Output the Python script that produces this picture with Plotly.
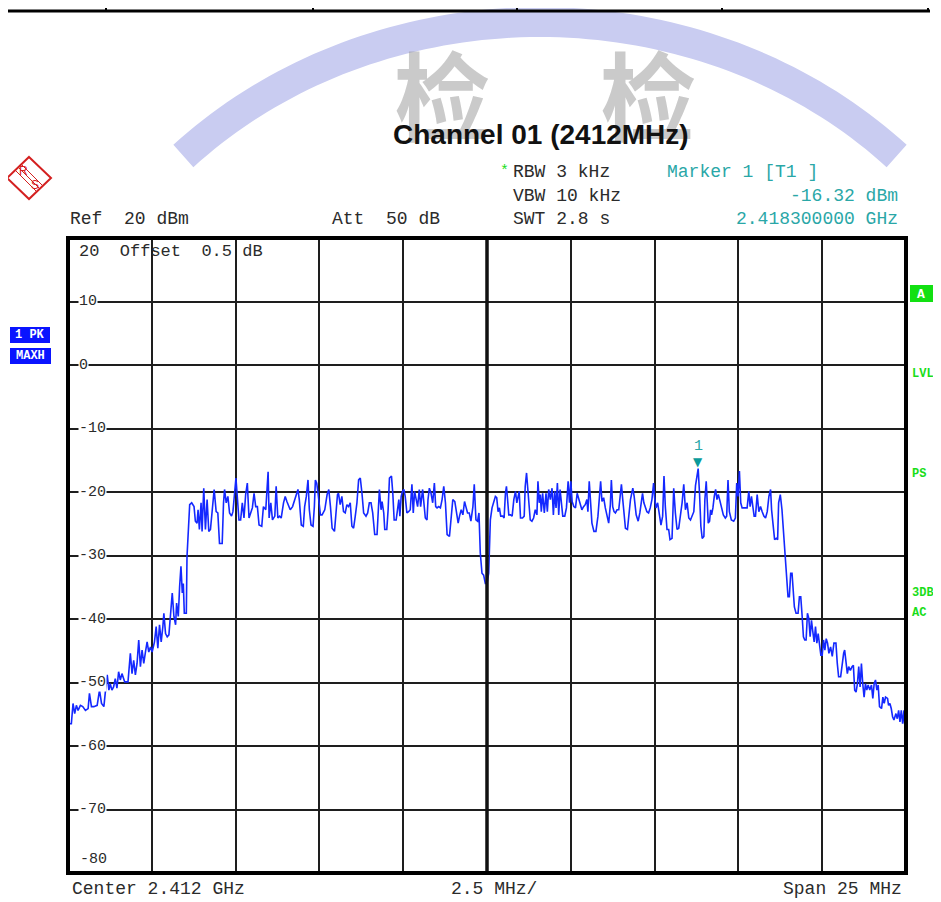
import math
import plotly.graph_objects as go

# ---------------- data (offset from 2.412 GHz centre, MHz ; level dBm) ----------------
lower_skirt = [
    (-12.50, -52.8), (-12.46, -56.5), (-12.40, -56.5), (-12.35, -53.3), (-12.30, -54.9), (-12.25, -53.6),
    (-12.20, -54.4), (-12.13, -53.6), (-12.06, -53.8), (-11.98, -54.4), (-11.90, -54.1), (-11.86, -51.7),
    (-11.80, -53.8), (-11.73, -53.8), (-11.63, -53.6), (-11.56, -51.2), (-11.50, -53.3), (-11.43, -53.8),
    (-11.38, -51.2), (-11.33, -48.8), (-11.28, -51.2), (-11.24, -50.2), (-11.19, -51.2), (-11.14, -50.7),
    (-11.09, -49.4), (-11.04, -50.9), (-10.99, -48.3), (-10.94, -49.6), (-10.89, -48.6), (-10.81, -49.9),
    (-10.71, -49.9), (-10.64, -45.4), (-10.59, -48.6), (-10.54, -46.5), (-10.49, -48.8), (-10.44, -47.0),
    (-10.39, -43.3), (-10.34, -47.5), (-10.29, -44.9), (-10.24, -47.0), (-10.19, -45.2), (-10.14, -43.6),
    (-10.09, -45.2), (-10.04, -44.4), (-9.99, -45.2), (-9.92, -43.6), (-9.87, -41.2), (-9.82, -44.6),
    (-9.77, -40.9), (-9.72, -43.6), (-9.67, -41.2), (-9.64, -39.1), (-9.59, -42.3), (-9.54, -42.8),
    (-9.49, -42.5), (-9.44, -39.1), (-9.39, -35.9), (-9.34, -39.6), (-9.29, -40.9), (-9.26, -37.5),
    (-9.21, -39.6), (-9.17, -34.9), (-9.13, -31.7), (-9.09, -35.9), (-9.06, -34.4), (-9.03, -39.1),
    (-8.97, -39.1), (-8.95, -30.2), (-8.91, -25.4),
]
band_left = [
    (-8.87, -22.0), (-8.81, -21.7), (-8.74, -22.3), (-8.70, -24.6), (-8.65, -24.9), (-8.62, -22.8),
    (-8.58, -25.9), (-8.53, -21.7), (-8.50, -26.2), (-8.45, -19.4), (-8.40, -25.9), (-8.35, -21.2),
    (-8.30, -26.2), (-8.25, -25.9), (-8.20, -22.8), (-8.14, -19.6), (-8.08, -23.1), (-8.03, -23.3),
    (-7.98, -28.1), (-7.90, -28.1), (-7.86, -21.7), (-7.83, -19.6), (-7.78, -21.7), (-7.73, -20.7),
    (-7.68, -23.3), (-7.62, -23.8), (-7.58, -23.1), (-7.53, -19.9), (-7.49, -17.8), (-7.45, -20.7),
    (-7.40, -24.4), (-7.35, -24.4), (-7.30, -21.7), (-7.25, -24.1), (-7.20, -20.4), (-7.15, -18.6),
    (-7.10, -24.1), (-7.05, -23.3), (-7.00, -22.5), (-6.95, -20.2), (-6.90, -22.3), (-6.85, -22.3),
    (-6.80, -25.2), (-6.72, -25.4), (-6.67, -22.3), (-6.60, -22.8), (-6.56, -19.1), (-6.53, -16.8),
    (-6.50, -24.1), (-6.45, -21.7), (-6.40, -24.4), (-6.33, -23.8), (-6.29, -19.1), (-6.24, -24.1),
    (-6.19, -23.8), (-6.14, -24.1), (-6.07, -21.7), (-6.02, -20.7), (-5.97, -21.5), (-5.92, -22.3),
    (-5.87, -22.8), (-5.80, -22.3), (-5.75, -21.5), (-5.70, -20.4), (-5.64, -19.6), (-5.60, -21.2),
    (-5.54, -25.2), (-5.48, -25.4), (-5.44, -22.3), (-5.39, -20.7), (-5.34, -18.1), (-5.30, -22.8),
    (-5.25, -25.2), (-5.19, -25.4), (-5.15, -22.3), (-5.12, -18.1), (-5.08, -18.6), (-5.04, -20.2),
    (-4.97, -23.6), (-4.92, -23.6), (-4.84, -22.8), (-4.77, -20.4), (-4.72, -19.6), (-4.67, -22.3),
    (-4.62, -25.7), (-4.55, -26.2), (-4.50, -22.8), (-4.46, -20.4), (-4.43, -20.2), (-4.38, -22.0),
    (-4.33, -20.7), (-4.28, -23.1), (-4.23, -23.3), (-4.18, -22.0), (-4.13, -22.3), (-4.08, -21.7),
    (-4.03, -25.4), (-3.98, -25.7), (-3.93, -23.8), (-3.88, -21.7), (-3.83, -18.1), (-3.78, -17.8),
    (-3.73, -20.2), (-3.68, -23.3), (-3.61, -23.8), (-3.56, -23.3), (-3.51, -21.7), (-3.46, -21.7),
    (-3.41, -23.3), (-3.35, -26.7), (-3.28, -26.7), (-3.25, -23.3), (-3.21, -19.6), (-3.16, -22.8),
    (-3.13, -21.5), (-3.08, -23.3), (-3.05, -25.9), (-2.99, -25.9), (-2.95, -22.8), (-2.91, -17.8),
    (-2.85, -17.5), (-2.81, -20.2), (-2.77, -24.4), (-2.71, -24.4), (-2.67, -22.3), (-2.63, -21.2),
    (-2.60, -23.8), (-2.56, -20.7), (-2.52, -19.9), (-2.48, -19.6), (-2.44, -20.7), (-2.39, -23.3),
    (-2.34, -23.1), (-2.29, -22.8), (-2.24, -18.8), (-2.20, -23.3), (-2.16, -19.9), (-2.12, -21.2),
    (-2.07, -22.3), (-2.02, -19.6), (-1.98, -22.3), (-1.92, -19.6), (-1.89, -21.2), (-1.84, -24.1),
    (-1.79, -24.4), (-1.76, -21.2), (-1.72, -19.4), (-1.67, -20.2), (-1.62, -21.7), (-1.57, -18.6),
    (-1.53, -22.3), (-1.49, -22.5), (-1.44, -22.3), (-1.39, -22.5), (-1.34, -21.2), (-1.29, -19.1),
    (-1.24, -21.7), (-1.19, -26.7), (-1.12, -27.0), (-1.07, -24.1), (-1.02, -21.2), (-0.96, -21.5),
    (-0.91, -23.1), (-0.86, -24.9), (-0.82, -23.8), (-0.77, -22.8), (-0.72, -23.6), (-0.67, -21.5),
    (-0.63, -22.3), (-0.58, -23.3), (-0.53, -23.3), (-0.48, -24.6), (-0.42, -22.3), (-0.38, -18.8),
    (-0.33, -24.4), (-0.28, -24.6), (-0.24, -23.3),
]
centre_notch = [
    (-0.20, -29.6), (-0.15, -32.8), (-0.10, -33.1), (-0.05, -34.4), (0.00, -34.4), (0.05, -32.8),
    (0.07, -28.6),
]
band_right = [
    (0.10, -24.4), (0.15, -22.5), (0.20, -21.7), (0.25, -20.7), (0.29, -20.9), (0.33, -23.1),
    (0.37, -22.5), (0.41, -23.8), (0.47, -23.8), (0.51, -24.1), (0.55, -20.2), (0.58, -19.1),
    (0.61, -20.9), (0.65, -23.6), (0.70, -23.6), (0.75, -23.8), (0.80, -21.2), (0.85, -19.9),
    (0.89, -21.7), (0.93, -20.7), (0.96, -19.9), (1.00, -24.1), (1.06, -24.1), (1.11, -23.8),
    (1.14, -19.1), (1.18, -17.0), (1.24, -21.2), (1.29, -24.4), (1.34, -24.6), (1.39, -24.1),
    (1.44, -22.8), (1.49, -23.6), (1.52, -18.3), (1.56, -21.7), (1.59, -20.4), (1.62, -23.1),
    (1.66, -20.2), (1.71, -23.3), (1.76, -20.2), (1.80, -23.1), (1.84, -19.6), (1.89, -21.2),
    (1.94, -19.4), (1.98, -23.6), (2.02, -19.9), (2.06, -22.5), (2.10, -18.6), (2.14, -23.6),
    (2.18, -19.6), (2.22, -22.3), (2.26, -23.8), (2.32, -23.8), (2.37, -22.5), (2.42, -18.3),
    (2.46, -21.7), (2.50, -18.3), (2.54, -21.5), (2.59, -22.3), (2.64, -22.5), (2.69, -20.2),
    (2.74, -21.2), (2.77, -22.0), (2.83, -22.8), (2.88, -22.3), (2.93, -22.0), (2.98, -21.2),
    (3.01, -23.1), (3.05, -18.3), (3.08, -21.2), (3.13, -24.9), (3.19, -26.2), (3.25, -26.2),
    (3.31, -23.8), (3.35, -20.2), (3.39, -18.3), (3.43, -21.5), (3.48, -20.9), (3.53, -22.5),
    (3.58, -23.8), (3.63, -24.9), (3.68, -22.0), (3.71, -18.1), (3.75, -22.3), (3.79, -23.1),
    (3.83, -23.3), (3.88, -22.8), (3.93, -22.8), (3.97, -20.2), (4.01, -18.8), (4.05, -21.2),
    (4.09, -23.1), (4.13, -25.7), (4.19, -25.9), (4.23, -23.6), (4.28, -21.2), (4.35, -19.4),
    (4.39, -20.7), (4.45, -23.6), (4.51, -24.6), (4.56, -23.3), (4.61, -21.2), (4.64, -20.2),
    (4.68, -21.7), (4.72, -22.3), (4.77, -23.1), (4.82, -23.3), (4.87, -22.5), (4.92, -21.2),
    (4.97, -18.6), (5.00, -20.9), (5.04, -22.5), (5.09, -21.7), (5.14, -23.8), (5.19, -25.2),
    (5.24, -23.8), (5.28, -17.5), (5.32, -22.3), (5.37, -25.9), (5.42, -25.9), (5.46, -27.5),
    (5.52, -27.3), (5.57, -19.4), (5.62, -23.3), (5.67, -25.9), (5.72, -25.7), (5.77, -23.8),
    (5.82, -21.7), (5.87, -18.8), (5.92, -22.8), (5.97, -21.7), (6.02, -24.1), (6.07, -24.4),
    (6.12, -23.6), (6.17, -23.1), (6.22, -19.0), (6.30, -16.32), (6.34, -20.2), (6.38, -25.4),
    (6.42, -27.3), (6.47, -27.0), (6.50, -21.2), (6.54, -18.3), (6.57, -21.5), (6.60, -24.9),
    (6.64, -24.6), (6.67, -22.8), (6.70, -23.6), (6.74, -22.5), (6.78, -20.7), (6.82, -19.6),
    (6.86, -21.2), (6.90, -20.4), (6.94, -21.2), (6.99, -22.5), (7.05, -23.6), (7.11, -24.1),
    (7.15, -23.8), (7.19, -18.1), (7.23, -23.1), (7.29, -24.4), (7.36, -24.6), (7.41, -24.1),
    (7.45, -18.6), (7.49, -20.7), (7.53, -16.7), (7.57, -21.7), (7.61, -22.5), (7.69, -22.5),
    (7.76, -22.5), (7.81, -19.9), (7.85, -22.3), (7.89, -20.7), (7.93, -22.5), (7.97, -23.8),
    (8.01, -23.8), (8.06, -20.4), (8.11, -23.1), (8.16, -22.3), (8.21, -23.1), (8.26, -23.8),
    (8.31, -24.1), (8.36, -23.1), (8.41, -20.7), (8.46, -19.6), (8.49, -22.8), (8.54, -25.2),
    (8.58, -27.5), (8.63, -27.3), (8.67, -27.5), (8.70, -21.7), (8.75, -20.4), (8.80, -22.8),
]
upper_skirt = [
    (8.85, -26.5), (8.90, -30.7), (8.95, -33.3), (8.98, -36.5), (9.02, -36.5), (9.06, -32.8),
    (9.10, -32.8), (9.13, -35.9), (9.17, -38.1), (9.22, -39.1), (9.28, -39.1), (9.32, -36.5),
    (9.36, -36.5), (9.40, -39.4), (9.44, -42.8), (9.48, -43.3), (9.52, -43.3), (9.56, -39.1),
    (9.60, -39.9), (9.64, -42.8), (9.68, -40.2), (9.72, -42.0), (9.76, -43.6), (9.80, -41.2),
    (9.84, -43.8), (9.88, -42.3), (9.92, -44.4), (9.96, -45.7), (10.00, -45.7), (10.04, -43.3),
    (10.08, -44.9), (10.12, -43.1), (10.16, -43.8), (10.20, -45.4), (10.25, -44.4), (10.30, -45.9),
    (10.35, -43.8), (10.41, -43.8), (10.45, -47.0), (10.49, -49.1), (10.55, -49.1), (10.59, -47.0),
    (10.64, -45.4), (10.67, -44.9), (10.71, -46.5), (10.75, -48.6), (10.79, -47.5), (10.84, -48.1),
    (10.89, -47.5), (10.93, -47.3), (10.97, -51.2), (11.01, -51.5), (11.05, -50.2), (11.09, -47.5),
    (11.13, -50.7), (11.17, -47.0), (11.21, -50.2), (11.25, -52.3), (11.29, -50.2), (11.33, -51.2),
    (11.37, -50.4), (11.42, -51.2), (11.47, -50.4), (11.51, -52.5), (11.55, -50.2), (11.59, -49.6),
    (11.63, -51.2), (11.67, -50.4), (11.71, -53.8), (11.77, -54.1), (11.81, -52.3), (11.85, -53.3),
    (11.89, -52.3), (11.95, -52.5), (11.98, -53.6), (12.02, -53.3), (12.06, -54.1), (12.10, -55.4),
    (12.14, -55.9), (12.20, -54.9), (12.24, -55.7), (12.28, -54.4), (12.32, -56.2), (12.36, -54.4),
    (12.40, -56.5), (12.44, -54.4), (12.48, -58.3), (12.50, -58.4),
]

y_tick_values = [10, 0, -10, -20, -30, -40, -50, -60, -70]
y_top_label = "20"
y_bottom_label = "-80"
marker_offset_mhz = 6.30
marker_level = -16.32

points = lower_skirt + band_left + centre_notch + band_right + upper_skirt
freq = [p[0] for p in points]
level = [p[1] for p in points]

# ---------------- geometry (page has an 8 px body margin) ----------------
PAGE_OFF = 8
W, H = 941 - PAGE_OFF, 902 - PAGE_OFF
FX0, FX1, FY0, FY1 = 68, 906, 238, 873          # frame position in the screenshot
L, T = FX0 - PAGE_OFF, FY0 - PAGE_OFF
R, B = W - (FX1 - PAGE_OFF), H - (FY1 - PAGE_OFF)
PW, PH = FX1 - FX0, FY1 - FY0


def px(x):
    return (x - FX0) / PW


def py(y):
    return (FY1 - y) / PH


MONO = "Liberation Mono, Courier New, monospace"
DARK = "#2b2b2b"
TEAL = "#2aa7a7"
GREEN = "#19dd19"
HS = 18  # header font size

fig = go.Figure()
fig.add_trace(go.Scatter(x=freq, y=level, mode="lines",
                         line=dict(color="#1428ff", width=1.6), hoverinfo="skip"))

fig.update_layout(
    width=W, height=H, margin=dict(l=L, r=R, t=T, b=B),
    paper_bgcolor="white", plot_bgcolor="white", showlegend=False,
)
fig.update_xaxes(range=[-12.5, 12.5], tick0=-12.5, dtick=2.5, showgrid=True,
                 gridcolor="#1e1e1e", gridwidth=2, showticklabels=False,
                 zeroline=False, showline=False, ticks="", fixedrange=True)
fig.update_yaxes(range=[-80, 20], tick0=0, dtick=10, showgrid=True,
                 gridcolor="#1e1e1e", gridwidth=2, showticklabels=False,
                 zeroline=False, showline=False, ticks="", fixedrange=True)

shapes = []
# watermark arc (lavender)
cx, cy, rx, ry = 540, 470, 500, 448
t0 = math.asin((cy - 156) / ry)
n = 80
pts = []
for i in range(n + 1):
    t = t0 + (math.pi - 2 * t0) * i / n
    x = cx + rx * math.cos(t)
    y = cy - ry * math.sin(t)
    pts.append(f"{px(x):.5f},{py(y):.5f}")
shapes.append(dict(type="path", xref="paper", yref="paper", layer="below",
                   path="M " + " L ".join(pts),
                   line=dict(color="#c9ccf1", width=30)))
# table line at very top
shapes.append(dict(type="line", xref="paper", yref="paper", x0=px(0), x1=px(930),
                   y0=py(11), y1=py(11), line=dict(color="black", width=3)))
for vx in [106, 313, 517, 722, 928]:
    shapes.append(dict(type="line", xref="paper", yref="paper", x0=px(vx), x1=px(vx),
                       y0=py(0), y1=py(11), line=dict(color="black", width=2)))
# centre line (thicker)
shapes.append(dict(type="line", xref="x", yref="paper", x0=0, x1=0, y0=0, y1=1,
                   line=dict(color="#111111", width=3.5)))
# frame
shapes.append(dict(type="rect", xref="paper", yref="paper", x0=0, x1=1, y0=0, y1=1,
                   line=dict(color="black", width=4)))
# R&S logo
shapes.append(dict(type="path", xref="paper", yref="paper",
                   path=f"M {px(29)},{py(157)} L {px(51)},{py(178)} L {px(29)},{py(199)} L {px(7)},{py(178)} Z",
                   line=dict(color="#d42020", width=2)))
for d in (-3, 0, 3):
    shapes.append(dict(type="line", xref="paper", yref="paper",
                       x0=px(19 + d), y0=py(168 - d), x1=px(40 + d), y1=py(189 - d),
                       line=dict(color="#d42020", width=1)))
# left blue boxes
shapes.append(dict(type="rect", xref="paper", yref="paper", x0=px(10), x1=px(50),
                   y0=py(343), y1=py(327), fillcolor="#0a14ff", line=dict(width=0)))
shapes.append(dict(type="rect", xref="paper", yref="paper", x0=px(10), x1=px(51),
                   y0=py(364), y1=py(348), fillcolor="#0a14ff", line=dict(width=0)))
# right green "A" box
shapes.append(dict(type="rect", xref="paper", yref="paper", x0=px(910), x1=px(933),
                   y0=py(302), y1=py(285), fillcolor="#12e012", line=dict(width=0)))
fig.update_layout(shapes=shapes)

ann = []


def txt(x, y, s, anchor="left", size=HS, color=DARK, family=MONO, bold=False):
    ann.append(dict(xref="paper", yref="paper", x=px(x), y=py(y), text=s, showarrow=False,
                    xanchor=anchor, yanchor="middle",
                    font=dict(family=family, size=size, color=color,
                              weight="bold" if bold else "normal")))


# watermark characters
for wx in (442, 648):
    ann.append(dict(xref="paper", yref="paper", x=px(wx), y=py(20), text="检",
                    showarrow=False, xanchor="center", yanchor="top",
                    font=dict(family="Noto Sans CJK SC", size=96,
                              color="rgba(150,150,150,0.5)", weight="bold")))

# title
txt(541, 135, "Channel 01 (2412MHz)", anchor="center", size=28,
    family="Liberation Sans, Arial, sans-serif", color="#111111", bold=True)

# header block
txt(498, 172, "*", size=15, color=GREEN)
txt(511, 172, "RBW 3 kHz")
txt(511, 196, "VBW 10 kHz")
txt(511, 219, "SWT 2.8 s")
txt(665, 172, "Marker 1 [T1 ]", color=TEAL)
txt(900, 196, "-16.32 dBm", anchor="right", color=TEAL)
txt(900, 219, "2.418300000 GHz", anchor="right", color=TEAL)
txt(68, 219, "Ref  20 dBm")
txt(330, 219, "Att  50 dB")
txt(77, 251, y_top_label + "  Offset  0.5 dB", size=17)

# R&S letters
txt(23, 171, "R", anchor="center", size=12, color="#d42020", family="Liberation Sans, Arial")
txt(35, 185, "S", anchor="center", size=12, color="#d42020", family="Liberation Sans, Arial")

# y labels inside the frame
for v in y_tick_values:
    ann.append(dict(xref="paper", yref="y", x=px(78), y=v, text=str(v), showarrow=False,
                    xanchor="left", yanchor="middle", bgcolor="white", borderpad=0,
                    font=dict(family=MONO, size=15, color=DARK)))
txt(78, 859, y_bottom_label, size=15)

# left trace-info boxes
txt(30, 335, "1 PK", anchor="center", size=12, color="white", bold=True)
txt(30, 356, "MAXH", anchor="center", size=12, color="white", bold=True)

# right status labels
txt(921, 294, "A", anchor="center", size=13, color="white", bold=True)
txt(910, 374, "LVL", size=12, color=GREEN, bold=True)
txt(910, 474, "PS", size=12, color=GREEN, bold=True)
txt(910, 593, "3DB", size=12, color=GREEN, bold=True)
txt(910, 613, "AC", size=12, color=GREEN, bold=True)

# bottom line
txt(70, 889, "Center 2.412 GHz")
txt(494, 889, "2.5 MHz/", anchor="center")
txt(904, 889, "Span 25 MHz", anchor="right")

# marker
ann.append(dict(xref="x", yref="y", x=marker_offset_mhz, y=marker_level, text="▼",
                showarrow=False, xanchor="center", yanchor="bottom", yshift=-2,
                font=dict(family="DejaVu Sans", size=12, color="#0a9a9a")))
ann.append(dict(xref="x", yref="y", x=marker_offset_mhz, y=marker_level, text="1",
                showarrow=False, xanchor="center", yanchor="bottom", yshift=12,
                font=dict(family=MONO, size=15, color=TEAL)))

fig.update_layout(annotations=ann)
fig.write_html("out.html")
